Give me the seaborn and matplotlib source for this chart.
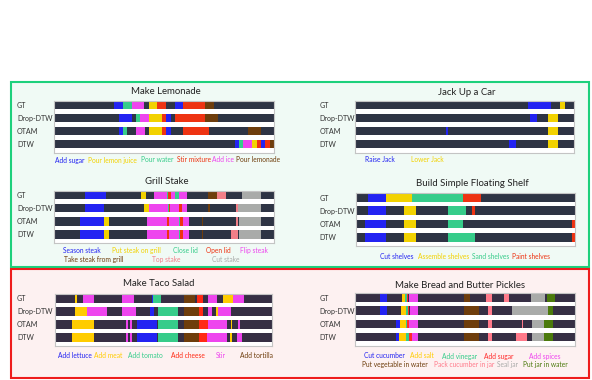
import numpy as np
import matplotlib
matplotlib.use("Agg")
import matplotlib.pyplot as plt
from matplotlib.colors import ListedColormap
from matplotlib.patches import Rectangle
import seaborn as sns

ROWS = ["GT", "Drop-DTW", "OTAM", "DTW"]

# ---- Make Lemonade (segments in % of video length)
LEMONADE_ACTIONS = ["Add sugar", "Pour lemon juice", "Pour water", "Stir mixture", "Add ice", "Pour lemonade"]
LEMONADE_GT = [("Add sugar", 27.3, 31.4), ("Pour water", 31.4, 35.2), ("Add ice", 35.2, 40.9),
               ("Pour lemon juice", 43.0, 46.9), ("Stir mixture", 46.9, 50.8), ("Add sugar", 54.8, 58.5),
               ("Stir mixture", 58.5, 68.5), ("Pour lemonade", 68.5, 72.4)]
LEMONADE_DROP = [("Add sugar", 29.4, 35.2), ("Pour water", 37.1, 38.9), ("Add ice", 38.9, 43.0),
                 ("Pour lemon juice", 43.0, 48.8), ("Stir mixture", 48.8, 50.9), ("Add sugar", 50.9, 52.9),
                 ("Stir mixture", 54.8, 68.5), ("Pour lemonade", 68.5, 74.2)]
LEMONADE_OTAM = [("Add sugar", 29.4, 31.4), ("Pour water", 31.4, 33.2), ("Add ice", 37.1, 41.1),
                 ("Pour lemon juice", 43.0, 48.8), ("Stir mixture", 48.8, 50.9), ("Add sugar", 50.9, 52.9),
                 ("Stir mixture", 58.6, 70.3), ("Pour lemonade", 88.0, 93.9)]
LEMONADE_DTW = [("Add sugar", 82.1, 84.1), ("Pour water", 84.1, 85.9), ("Add ice", 85.9, 90.0),
                ("Pour lemon juice", 90.0, 92.0), ("Stir mixture", 92.0, 93.9), ("Add sugar", 93.9, 95.9),
                ("Stir mixture", 95.9, 97.9), ("Pour lemonade", 97.9, 100.0)]

# ---- Jack Up a Car
JACK_ACTIONS = ["Raise Jack", "Lower Jack"]
JACK_GT = [("Raise Jack", 78.7, 89.4), ("Lower Jack", 93.6, 95.7)]
JACK_DROP = [("Raise Jack", 79.8, 83.0), ("Lower Jack", 88.1, 92.7)]
JACK_OTAM = [("Raise Jack", 41.3, 42.4), ("Lower Jack", 88.1, 92.7)]
JACK_DTW = [("Raise Jack", 70.4, 73.6), ("Lower Jack", 88.1, 92.7)]

# ---- Grill Stake
GRILL_ACTIONS = ["Season steak", "Put steak on grill", "Close lid", "Open lid", "Flip steak",
                 "Take steak from grill", "Top stake", "Cut stake"]
GRILL_GT = [("Season steak", 14.3, 23.7), ("Put steak on grill", 39.5, 41.7), ("Flip steak", 45.5, 51.2),
            ("Close lid", 51.2, 51.6), ("Open lid", 51.6, 53.0), ("Flip steak", 53.0, 55.2),
            ("Close lid", 55.2, 56.9), ("Flip steak", 56.9, 60.6), ("Take steak from grill", 69.8, 73.9),
            ("Top stake", 73.9, 78.1), ("Cut stake", 85.5, 94.0)]
GRILL_DROP = [("Season steak", 14.4, 23.0), ("Put steak on grill", 41.1, 43.2), ("Flip steak", 43.2, 51.7),
              ("Close lid", 51.7, 52.2), ("Open lid", 52.2, 52.6), ("Flip steak", 52.6, 56.6),
              ("Open lid", 56.6, 58.0), ("Flip steak", 58.0, 60.6), ("Take steak from grill", 70.1, 70.8),
              ("Top stake", 82.6, 83.4), ("Cut stake", 83.4, 93.9)]
GRILL_OTAM = [("Season steak", 12.1, 23.0), ("Put steak on grill", 23.0, 25.2), ("Flip steak", 42.4, 51.5),
              ("Open lid", 51.5, 52.2), ("Flip steak", 52.2, 56.6), ("Close lid", 56.6, 57.1),
              ("Open lid", 57.1, 58.4), ("Flip steak", 58.4, 61.3), ("Take steak from grill", 67.1, 67.8),
              ("Top stake", 82.6, 83.4), ("Cut stake", 84.2, 94.0)]
GRILL_DTW = [("Season steak", 12.1, 23.0), ("Put steak on grill", 23.0, 25.2), ("Flip steak", 42.4, 51.5),
             ("Open lid", 51.5, 52.2), ("Flip steak", 52.2, 56.8), ("Close lid", 56.8, 57.3),
             ("Open lid", 57.3, 58.4), ("Flip steak", 58.4, 61.3), ("Take steak from grill", 67.1, 67.8),
             ("Top stake", 80.2, 83.4), ("Cut stake", 84.2, 94.0)]

# ---- Build Simple Floating Shelf
SHELF_ACTIONS = ["Cut shelves", "Assemble shelves", "Sand shelves", "Paint shelves"]
SHELF_GT = [("Cut shelves", 5.5, 13.7), ("Assemble shelves", 13.7, 25.7), ("Sand shelves", 25.7, 48.6),
            ("Paint shelves", 48.6, 56.8)]
SHELF_DROP = [("Cut shelves", 5.5, 13.7), ("Assemble shelves", 21.7, 27.2), ("Sand shelves", 41.8, 50.0),
              ("Paint shelves", 52.7, 54.1)]
SHELF_OTAM = [("Cut shelves", 4.1, 13.7), ("Assemble shelves", 21.7, 27.2), ("Sand shelves", 41.8, 48.6),
              ("Paint shelves", 98.5, 100.0)]
SHELF_DTW = [("Cut shelves", 4.1, 13.7), ("Assemble shelves", 21.7, 27.2), ("Sand shelves", 41.8, 54.1),
             ("Paint shelves", 98.5, 100.0)]

# ---- Make Taco Salad
TACO_ACTIONS = ["Add lettuce", "Add meat", "Add tomato", "Add cheese", "Stir", "Add tortilla"]
TACO_GT = [("Add meat", 9.2, 9.8), ("Stir", 12.9, 18.0), ("Stir", 31.0, 36.4), ("Add lettuce", 44.5, 45.2),
           ("Add tomato", 45.2, 48.8), ("Add tortilla", 59.4, 64.5), ("Add cheese", 65.4, 68.0),
           ("Stir", 70.3, 74.6), ("Add meat", 77.2, 82.0), ("Stir", 82.0, 87.2)]
TACO_DROP = [("Add meat", 9.3, 14.5), ("Stir", 14.5, 24.0), ("Stir", 31.0, 37.1), ("Add lettuce", 43.7, 45.5),
             ("Add tomato", 47.2, 56.8), ("Add tortilla", 59.4, 66.3), ("Add cheese", 66.3, 68.0),
             ("Stir", 70.6, 72.4), ("Add meat", 74.0, 74.9), ("Stir", 74.9, 81.0)]
TACO_OTAM = [("Add meat", 7.6, 18.0), ("Stir", 32.6, 33.4), ("Stir", 34.4, 35.2), ("Add lettuce", 37.8, 46.8),
             ("Add tomato", 47.2, 56.8), ("Add tortilla", 59.4, 66.3), ("Add cheese", 66.3, 70.6),
             ("Stir", 70.6, 79.2), ("Add meat", 80.9, 81.6), ("Stir", 84.2, 85.2)]
TACO_DTW = [("Add meat", 7.6, 18.0), ("Stir", 32.6, 33.4), ("Stir", 34.4, 35.2), ("Add lettuce", 37.8, 46.8),
            ("Add tomato", 47.2, 56.8), ("Add tortilla", 59.4, 66.3), ("Add cheese", 66.3, 69.9),
            ("Stir", 69.9, 79.1), ("Add meat", 80.7, 81.7), ("Stir", 83.7, 86.1)]

# ---- Make Bread and Butter Pickles
PICKLE_ACTIONS = ["Cut cucumber", "Add salt", "Add vinegar", "Add sugar", "Add spices",
                  "Put vegetable in water", "Pack cucumber in jar", "Seal jar", "Put jar in water"]
PICKLE_GT = [("Cut cucumber", 11.4, 14.4), ("Add salt", 21.1, 22.8), ("Add vinegar", 22.8, 23.4),
             ("Add sugar", 23.4, 24.1), ("Add spices", 24.3, 28.5), ("Put vegetable in water", 49.3, 52.2),
             ("Pack cucumber in jar", 59.5, 62.3), ("Pack cucumber in jar", 67.6, 69.8),
             ("Seal jar", 79.8, 86.4), ("Put jar in water", 87.3, 90.8)]
PICKLE_DROP = [("Cut cucumber", 11.3, 14.5), ("Add salt", 20.6, 23.2), ("Add vinegar", 23.2, 23.8),
               ("Add sugar", 23.8, 24.4), ("Add spices", 24.8, 28.5), ("Put vegetable in water", 49.3, 56.3),
               ("Pack cucumber in jar", 60.3, 62.2), ("Seal jar", 71.1, 87.8), ("Put jar in water", 87.8, 90.0)]
PICKLE_OTAM = [("Cut cucumber", 18.3, 20.2), ("Add salt", 20.2, 23.1), ("Add vinegar", 23.1, 23.7),
               ("Add sugar", 23.7, 24.3), ("Add spices", 24.6, 28.4), ("Put vegetable in water", 49.3, 56.3),
               ("Pack cucumber in jar", 60.3, 62.2), ("Pack cucumber in jar", 75.7, 76.2),
               ("Seal jar", 80.5, 85.8), ("Put jar in water", 85.8, 89.8)]
PICKLE_DTW = [("Cut cucumber", 18.3, 20.1), ("Add salt", 20.1, 23.1), ("Add vinegar", 23.1, 24.3),
              ("Add sugar", 24.3, 25.9), ("Add spices", 25.9, 28.4), ("Put vegetable in water", 49.3, 56.3),
              ("Pack cucumber in jar", 60.3, 62.2), ("Pack cucumber in jar", 73.0, 78.2),
              ("Seal jar", 80.5, 85.8), ("Put jar in water", 85.8, 89.8)]

# colours
BLUE, YELLOW, TEAL, RED = "#2323f2", "#f2d200", "#36cc8a", "#ee3312"
MAGENTA, BROWN, PINK, GRAY, OLIVE = "#ee45ee", "#6e3d0c", "#f27f88", "#a9aba9", "#4b7a0c"
DARK_GREEN_BOX, DARK_RED_BOX = "#2e3444", "#362f44"

sns.set_style("white")
plt.rcParams["font.family"] = ["Lato", "DejaVu Sans"]

W, H = 592, 380
fig = plt.figure(figsize=(W / 100, H / 100), dpi=100)


def box(x0, y0, x1, y1, edge, face):
    fig.add_artist(Rectangle((x0 / W, 1 - y1 / H), (x1 - x0) / W, (y1 - y0) / H,
                             transform=fig.transFigure, facecolor=face, edgecolor=edge,
                             linewidth=1.5, zorder=-1))


box(11, 81.5, 588.5, 267, "#1dd07c", "#f0faf5")
box(11, 268.8, 588.5, 377.5, "#ee1c1c", "#fdf1f1")


def panel(rect, title, title_xy, actions, colors, rows, dark, label_x, legend):
    x0, y0, x1, y1 = rect
    ax = fig.add_axes([x0 / W, 1 - y1 / H, (x1 - x0) / W, (y1 - y0) / H])
    mat = np.full((12, 1000), np.nan)
    for i, segs in enumerate(rows):
        mat[3 * i:3 * i + 2, :] = 0
        for name, s, e in segs:
            mat[3 * i:3 * i + 2, int(round(s * 10)):int(round(e * 10))] = actions.index(name) + 1
    cmap = ListedColormap([dark] + colors)
    sns.heatmap(mat, ax=ax, cmap=cmap, vmin=-0.5, vmax=len(colors) + 0.5, cbar=False,
                xticklabels=False, yticklabels=False)
    ax.set_facecolor("white")
    ax.set_yticks([1, 4, 7, 10])
    ax.set_yticklabels(ROWS, fontsize=5.1, color="#333333", ha="left", rotation=0)
    ax.tick_params(axis="y", length=0, pad=(x0 - label_x) * 0.72)
    for sp in ax.spines.values():
        sp.set_visible(True)
        sp.set_color("#c4c4c4")
        sp.set_linewidth(0.8)
    fig.text(title_xy[0] / W, 1 - title_xy[1] / H, title, ha="center", va="center",
             fontsize=6.9, color="#222222")
    for name, lx, ly in legend:
        fig.text(lx / W, 1 - ly / H, name, color=colors[actions.index(name)], fontsize=4.8,
                 ha="left", va="center")


panel((54.3, 100.7, 274.3, 152.7), "Make Lemonade", (166.3, 92),
      LEMONADE_ACTIONS, [BLUE, YELLOW, TEAL, RED, MAGENTA, BROWN],
      [LEMONADE_GT, LEMONADE_DROP, LEMONADE_OTAM, LEMONADE_DTW], DARK_GREEN_BOX, 17,
      [("Add sugar", 55, 160), ("Pour lemon juice", 87.7, 160), ("Pour water", 140.7, 160),
       ("Stir mixture", 176.7, 160), ("Add ice", 212.3, 160), ("Pour lemonade", 235.7, 160)])

panel((355, 100.7, 574.3, 152.7), "Jack Up a Car", (466.7, 92.3),
      JACK_ACTIONS, [BLUE, YELLOW],
      [JACK_GT, JACK_DROP, JACK_OTAM, JACK_DTW], DARK_GREEN_BOX, 319.5,
      [("Raise Jack", 365.3, 159.3), ("Lower Jack", 410.7, 159.3)])

panel((53.7, 190.7, 274.3, 243), "Grill Stake", (166.3, 182),
      GRILL_ACTIONS, [BLUE, YELLOW, TEAL, RED, MAGENTA, BROWN, PINK, GRAY],
      [GRILL_GT, GRILL_DROP, GRILL_OTAM, GRILL_DTW], DARK_GREEN_BOX, 17,
      [("Season steak", 63.3, 250.7), ("Put steak on grill", 112.3, 250.7), ("Close lid", 172.7, 250.7),
       ("Open lid", 206, 250.7), ("Flip steak", 240, 250.7), ("Take steak from grill", 64.3, 259.3),
       ("Top stake", 151.7, 259.3), ("Cut stake", 211.7, 259.3)])

panel((356, 193.3, 575.3, 246), "Build Simple Floating Shelf", (472, 183.3),
      SHELF_ACTIONS, [BLUE, YELLOW, TEAL, RED],
      [SHELF_GT, SHELF_DROP, SHELF_OTAM, SHELF_DTW], DARK_GREEN_BOX, 319.5,
      [("Cut shelves", 380.3, 256.3), ("Assemble shelves", 418.3, 256.3), ("Sand shelves", 472, 256.3),
       ("Paint shelves", 512, 256.3)])

panel((55.3, 294, 272, 346), "Make Taco Salad", (158.3, 284),
      TACO_ACTIONS, [BLUE, "#ffcc00", TEAL, "#ff2a14", MAGENTA, BROWN],
      [TACO_GT, TACO_DROP, TACO_OTAM, TACO_DTW], DARK_RED_BOX, 17,
      [("Add lettuce", 57.7, 356), ("Add meat", 94, 356), ("Add tomato", 128.3, 356),
       ("Add cheese", 171.3, 356), ("Stir", 215.7, 356), ("Add tortilla", 240, 356)])

panel((355.3, 293.3, 575, 345.7), "Make Bread and Butter Pickles", (460.3, 285.7),
      PICKLE_ACTIONS, [BLUE, "#ffcc00", TEAL, "#ff2a2a", MAGENTA, BROWN, "#ff7a8a", GRAY, OLIVE],
      [PICKLE_GT, PICKLE_DROP, PICKLE_OTAM, PICKLE_DTW], DARK_RED_BOX, 319.5,
      [("Cut cucumber", 364, 356), ("Add salt", 410, 356), ("Add vinegar", 441.7, 356),
       ("Add sugar", 483.7, 356), ("Add spices", 528.7, 356),
       ("Put vegetable in water", 361.7, 364.3), ("Pack cucumber in jar", 434, 364.3),
       ("Seal jar", 497.3, 364.3), ("Put jar in water", 523.3, 364.3)])

fig.savefig("out.png", dpi=100)
